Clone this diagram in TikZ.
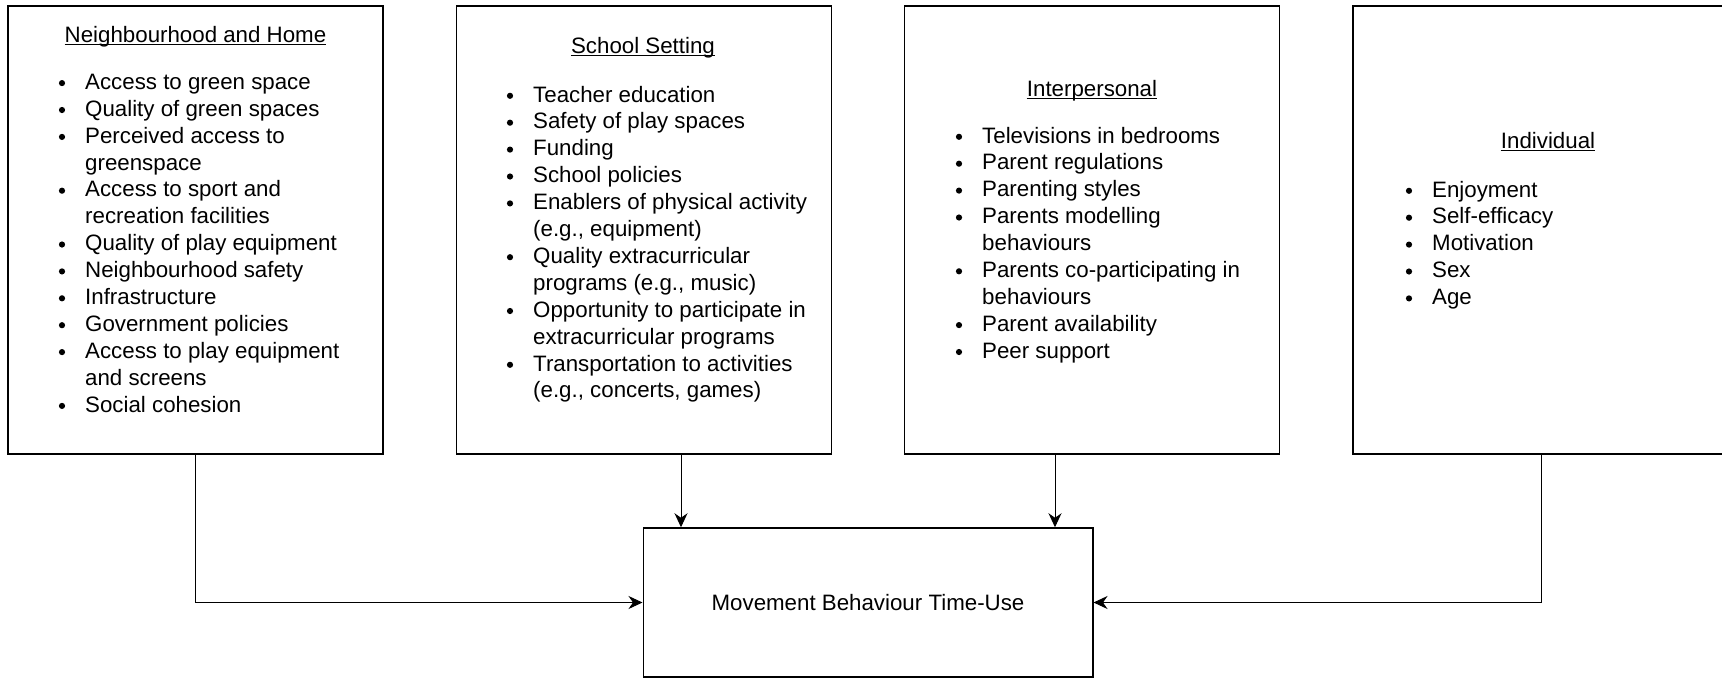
\documentclass[tikz,border=0pt]{standalone}
\usepackage{fontspec}
\setmainfont{Liberation Sans}
\usetikzlibrary{arrows.meta}

% bulleted row: name, bullet x, first baseline y, row index, text
\newcommand\bitem[5]{%
  \fill (#2,#3+26.9*#4-6.2) circle[radius=3.1pt];
  \node[rowtext] (#1) at (#2+23,#3+26.9*#4) {#5};}
% continuation row of a wrapped item
\newcommand\citem[5]{%
  \node[rowtext] (#1) at (#2+23,#3+26.9*#4) {#5};}
% underlined heading
\newcommand\heading[4]{%
  \node[headtext] (#1) at (#2,#3) {#4};
  \draw[line width=1.1pt] ([yshift=-2.3pt]#1.base west) -- ([yshift=-2.3pt]#1.base east);}

\begin{document}
\begin{tikzpicture}[x=1pt,y=-1pt,
  every node/.style={font=\fontsize{22.3}{26.9}\selectfont, text=black},
  panel/.style={draw, line width=1.5pt, rectangle, inner sep=0pt,
    minimum width=375pt, minimum height=448pt},
  outcome/.style={draw, line width=1.5pt, rectangle, inner sep=0pt,
    minimum width=449.5pt, minimum height=149pt},
  rowtext/.style={anchor=base west, inner sep=0pt},
  headtext/.style={anchor=base, inner sep=0pt},
  link/.style={line width=1pt, -{Stealth[length=14pt, width=13pt, inset=4.5pt]}}]

\useasboundingbox (0,0) rectangle (1722,678);

% the four panels of influences
\node[panel] (b1) at (195.5,230) {};
\node[panel] (b2) at (644,230) {};
\node[panel] (b3) at (1092,230) {};
\node[panel, minimum width=376pt] (b4) at (1541,230) {};

% outcome box
\node[outcome] (mb) at (868,602.5) {Movement Behaviour Time-Use};

% Neighbourhood and Home
\heading{h1}{195.5}{42}{Neighbourhood and Home}
\bitem{r1a}{62}{89.3}{0}{Access to green space}
\bitem{r1b}{62}{89.3}{1}{Quality of green spaces}
\bitem{r1c}{62}{89.3}{2}{Perceived access to}
\citem{r1d}{62}{89.3}{3}{greenspace}
\bitem{r1e}{62}{89.3}{4}{Access to sport and}
\citem{r1f}{62}{89.3}{5}{recreation facilities}
\bitem{r1g}{62}{89.3}{6}{Quality of play equipment}
\bitem{r1h}{62}{89.3}{7}{Neighbourhood safety}
\bitem{r1i}{62}{89.3}{8}{Infrastructure}
\bitem{r1j}{62}{89.3}{9}{Government policies}
\bitem{r1k}{62}{89.3}{10}{Access to play equipment}
\citem{r1l}{62}{89.3}{11}{and screens}
\bitem{r1m}{62}{89.3}{12}{Social cohesion}

% School Setting
\heading{h2}{643}{53}{School Setting}
\bitem{r2a}{510}{102}{0}{Teacher education}
\bitem{r2b}{510}{102}{1}{Safety of play spaces}
\bitem{r2c}{510}{102}{2}{Funding}
\bitem{r2d}{510}{102}{3}{School policies}
\bitem{r2e}{510}{102}{4}{Enablers of physical activity}
\citem{r2f}{510}{102}{5}{(e.g., equipment)}
\bitem{r2g}{510}{102}{6}{Quality extracurricular}
\citem{r2h}{510}{102}{7}{programs (e.g., music)}
\bitem{r2i}{510}{102}{8}{Opportunity to participate in}
\citem{r2j}{510}{102}{9}{extracurricular programs}
\bitem{r2k}{510}{102}{10}{Transportation to activities}
\citem{r2l}{510}{102}{11}{(e.g., concerts, games)}

% Interpersonal
\heading{h3}{1092}{96}{Interpersonal}
\bitem{r3a}{959}{143}{0}{Televisions in bedrooms}
\bitem{r3b}{959}{143}{1}{Parent regulations}
\bitem{r3c}{959}{143}{2}{Parenting styles}
\bitem{r3d}{959}{143}{3}{Parents modelling}
\citem{r3e}{959}{143}{4}{behaviours}
\bitem{r3f}{959}{143}{5}{Parents co-participating in}
\citem{r3g}{959}{143}{6}{behaviours}
\bitem{r3h}{959}{143}{7}{Parent availability}
\bitem{r3i}{959}{143}{8}{Peer support}

% Individual
\heading{h4}{1548}{148}{Individual}
\bitem{r4a}{1409}{197}{0}{Enjoyment}
\bitem{r4b}{1409}{197}{1}{Self-efficacy}
\bitem{r4c}{1409}{197}{2}{Motivation}
\bitem{r4d}{1409}{197}{3}{Sex}
\bitem{r4e}{1409}{197}{4}{Age}

% connectors into the outcome box
\coordinate (x2) at (681,0);
\coordinate (x3) at (1055,0);
\draw[link] (b1.south) |- (mb.west);
\draw[link] (b2.south -| x2) -- (mb.north -| x2);
\draw[link] (b3.south -| x3) -- (mb.north -| x3);
\draw[link] (b4.south) |- (mb.east);

\end{tikzpicture}
\end{document}
